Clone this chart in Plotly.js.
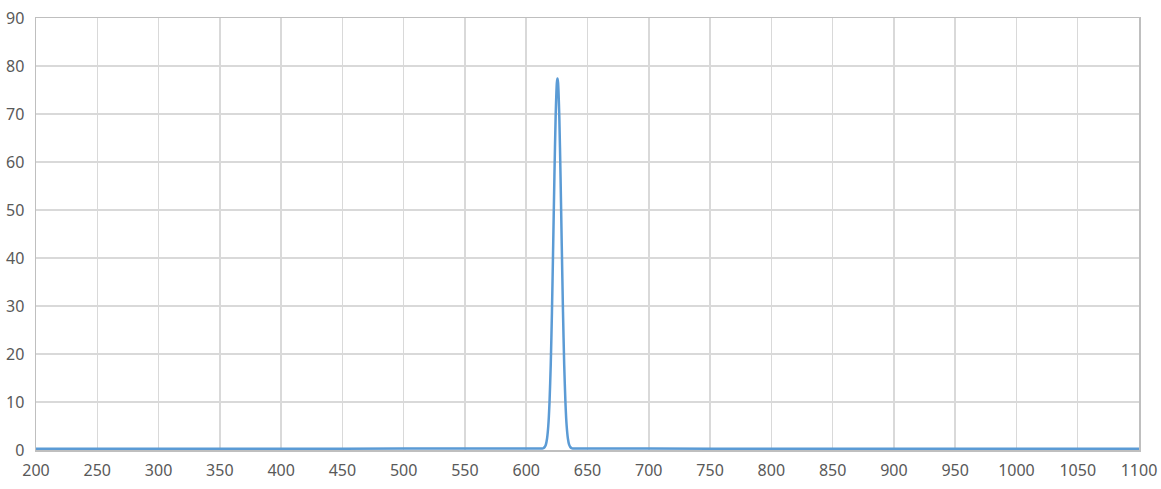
<!DOCTYPE html>
<html>
<head>
<meta charset="utf-8">
<script src="https://cdn.plot.ly/plotly-3.0.1.min.js"></script>
<style>
  html, body { margin: 0; padding: 0; background: #ffffff; }
  #chart { width: 1161px; height: 489px; }
</style>
</head>
<body>
<div id="chart"></div>
<script>
// wavelength (nm) and transmission (%)
const wavelength = [200, 300, 400, 500, 600, 610, 612, 613, 614, 615, 616, 617, 618, 619, 620,
  621, 622, 623, 624, 625, 625.5, 626, 627, 628, 629, 630, 631, 632, 633, 634, 635,
  636, 637, 638, 640, 650, 700, 800, 900, 1000, 1100];
const transmission = [0.25, 0.25, 0.25, 0.3, 0.3, 0.3, 0.3, 0.32, 0.4, 0.6, 1.1, 2.4, 5.0, 9.9, 17.7,
  28.8, 42.6, 57.0, 69.4, 76.5, 77.4, 76.5, 69.4, 57.0, 42.6, 28.8, 17.7, 9.9, 5.0, 2.4, 1.1,
  0.6, 0.4, 0.32, 0.3, 0.3, 0.3, 0.25, 0.25, 0.25, 0.25];

// faint second series lying on the axis
const wavelength2 = [200, 450, 700];
const transmission2 = [-0.3, -0.3, -0.3];

const xTicks = [200, 250, 300, 350, 400, 450, 500, 550, 600, 650, 700, 750, 800, 850, 900, 950, 1000, 1050, 1100];
const yTicks = [0, 10, 20, 30, 40, 50, 60, 70, 80, 90];

function init() {
  let font = { family: 'Noto Sans, DejaVu Sans, sans-serif', size: 16, color: '#595959' };

  let pale = {
    x: wavelength2,
    y: transmission2,
    mode: 'lines',
    type: 'scatter',
    line: { color: '#d6efcf', width: 2 },
    cliponaxis: false,
    hoverinfo: 'skip'
  };

  let trace = {
    x: wavelength,
    y: transmission,
    mode: 'lines',
    type: 'scatter',
    line: { color: '#5b9bd5', width: 2.5, shape: 'spline', smoothing: 0.6 },
    cliponaxis: false
  };

  let layout = {
    width: 1161,
    height: 489,
    margin: { l: 36, r: 22, t: 18, b: 39 },
    paper_bgcolor: '#ffffff',
    plot_bgcolor: '#ffffff',
    showlegend: false,
    font: font,
    xaxis: {
      range: [200, 1100],
      tickvals: xTicks,
      ticktext: xTicks.map(String),
      showgrid: true,
      gridcolor: '#d9d9d9',
      gridwidth: 1.5,
      zeroline: false,
      showline: true,
      linecolor: '#bfbfbf',
      linewidth: 1.5,
      mirror: true,
      ticks: '',
      ticklabelstandoff: 5,
      tickfont: font
    },
    yaxis: {
      range: [0, 90],
      tickvals: yTicks,
      ticktext: yTicks.map(String),
      showgrid: true,
      gridcolor: '#d9d9d9',
      gridwidth: 1.5,
      zeroline: false,
      showline: true,
      linecolor: '#bfbfbf',
      linewidth: 1.5,
      mirror: true,
      ticks: '',
      ticklabelstandoff: 7,
      tickfont: font
    }
  };

  Plotly.newPlot('chart', [pale, trace], layout, { displayModeBar: false, staticPlot: true });
}

window.addEventListener('load', init);
</script>
</body>
</html>
